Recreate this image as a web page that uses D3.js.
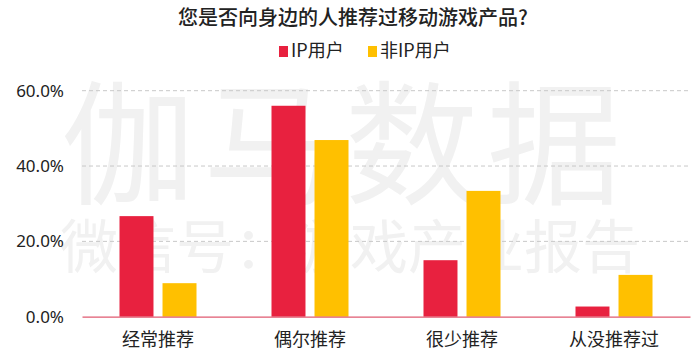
<!DOCTYPE html>
<html>
<head>
<meta charset="utf-8">
<script src="https://cdn.jsdelivr.net/npm/d3@7"></script>
<style>
  body { margin: 0; background: #fff; }
  svg { display: block; font-family: "Noto Sans CJK SC", "Noto Sans", sans-serif; }
</style>
</head>
<body>
<svg id="chart" width="700" height="362"></svg>
<script>
var categories = ['经常推荐', '偶尔推荐', '很少推荐', '从没推荐过'];
var seriesNames = ['IP用户', '非IP用户'];
var ipUsers = [26.7, 56.0, 15.0, 2.7];
var nonIpUsers = [8.9, 46.9, 33.4, 11.1];
var yTicks = [0, 20, 40, 60];
var colors = ['#e8213f', '#ffc000'];

var plotLeft = 82;
var plotRight = 690;
var plotTop = 90.7;
var plotBottom = 316.7;

var svg = d3.select('#chart');

// watermark
svg.append('text')
  .attr('x', 345).attr('y', 194)
  .attr('text-anchor', 'middle')
  .attr('font-size', 134)
  .attr('fill', '#f1f1f1')
  .attr('letter-spacing', 8)
  .text('伽马数据');
svg.append('text')
  .attr('x', 350).attr('y', 268)
  .attr('text-anchor', 'middle')
  .attr('font-size', 58)
  .attr('fill', '#f1f1f1')
  .text('微信号：游戏产业报告');

var xScale = d3.scaleBand()
  .domain(categories)
  .range([plotLeft, plotRight]);

var xInner = d3.scaleBand()
  .domain(seriesNames)
  .range([0, 77])
  .paddingInner(0.21);

var yScale = d3.scaleLinear()
  .domain([0, 60])
  .range([plotBottom, plotTop]);

// grid lines
svg.append('g')
  .selectAll('line')
  .data(yTicks.slice(1))
  .enter()
  .append('line')
  .attr('x1', plotLeft)
  .attr('x2', plotRight)
  .attr('y1', function(d) { return yScale(d); })
  .attr('y2', function(d) { return yScale(d); })
  .attr('stroke', '#c8c8c8')
  .attr('stroke-width', 1)
  .attr('stroke-dasharray', '4,3');

// y axis labels
var yAxis = d3.axisLeft(yScale)
  .tickValues(yTicks)
  .tickSize(0)
  .tickPadding(0)
  .tickFormat(function(d) { return d.toFixed(1) + '%'; });

var yG = svg.append('g')
  .attr('transform', 'translate(64,0)')
  .call(yAxis);
yG.select('.domain').remove();
yG.selectAll('text')
  .attr('font-size', 17)
  .attr('font-family', '"Noto Sans", sans-serif')
  .attr('fill', '#222');

// bars
var rows = categories.map(function(c, i) {
  return { cat: c, values: [ipUsers[i], nonIpUsers[i]] };
});

var groups = svg.selectAll('g.grp')
  .data(rows)
  .enter()
  .append('g')
  .attr('class', 'grp')
  .attr('transform', function(d) {
    return 'translate(' + (xScale(d.cat) + xScale.bandwidth() / 2 - 38.5) + ',0)';
  });

groups.selectAll('rect')
  .data(function(d) { return d.values; })
  .enter()
  .append('rect')
  .attr('x', function(d, i) { return xInner(seriesNames[i]); })
  .attr('width', xInner.bandwidth())
  .attr('y', function(d) { return yScale(d); })
  .attr('height', function(d) { return plotBottom - yScale(d); })
  .attr('fill', function(d, i) { return colors[i]; });

// x axis
var xAxis = d3.axisBottom(xScale)
  .tickSize(0)
  .tickPadding(17);

var xG = svg.append('g')
  .attr('transform', 'translate(0,' + plotBottom + ')')
  .call(xAxis);
xG.select('.domain')
  .attr('stroke', '#e05a70')
  .attr('stroke-width', 1.2);
xG.selectAll('text')
  .attr('font-size', 18)
  .attr('font-family', '"Noto Sans CJK SC", sans-serif')
  .attr('fill', '#222');

// title
svg.append('text')
  .attr('x', 353)
  .attr('y', 25)
  .attr('text-anchor', 'middle')
  .attr('font-size', 20)
  .attr('font-weight', 500)
  .attr('fill', '#222')
  .text('您是否向身边的人推荐过移动游戏产品?');

// legend
var legendX = [279, 368];
var legend = svg.selectAll('g.legend')
  .data(seriesNames)
  .enter()
  .append('g')
  .attr('class', 'legend')
  .attr('transform', function(d, i) { return 'translate(' + legendX[i] + ',46)'; });

legend.append('rect')
  .attr('width', 9)
  .attr('height', 11)
  .attr('fill', function(d, i) { return colors[i]; });

legend.append('text')
  .attr('x', 12)
  .attr('y', 11)
  .attr('font-size', 18)
  .attr('fill', '#222')
  .text(function(d) { return d; });
</script>
</body>
</html>
